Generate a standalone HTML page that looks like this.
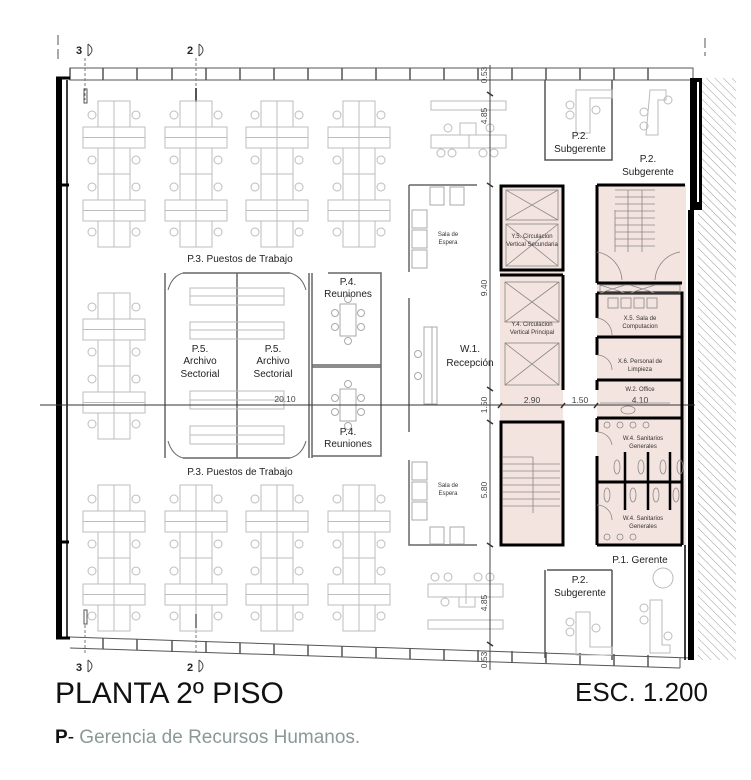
<!DOCTYPE html>
<html><head><meta charset="utf-8"><style>
html,body{margin:0;padding:0;background:#fff}
svg{display:block}
text{font-family:"Liberation Sans",Arial,sans-serif}
</style></head><body>
<svg width="751" height="780" viewBox="0 0 751 780" xmlns="http://www.w3.org/2000/svg">
<defs>
<pattern id="hatch" width="6" height="6" patternUnits="userSpaceOnUse" patternTransform="rotate(-45)">
<line x1="0" y1="0" x2="0" y2="6" stroke="#999" stroke-width="1"/>
</pattern>
<g id="cl" fill="none" stroke="#bdbdbd" stroke-width="1">
<rect x="-16" y="0" width="16" height="146"/><rect x="0" y="0" width="16" height="146"/>
<rect x="-31" y="26" width="62" height="21" fill="#fff"/><line x1="-31" y1="36.5" x2="31" y2="36.5"/><line x1="0" y1="26" x2="0" y2="47"/>
<rect x="-31" y="99" width="62" height="21" fill="#fff"/><line x1="-31" y1="109.5" x2="31" y2="109.5"/><line x1="0" y1="99" x2="0" y2="120"/>
<line x1="-16" y1="73" x2="16" y2="73"/>
<circle cx="-22" cy="14" r="4"/><circle cx="22" cy="14" r="4"/>
<circle cx="-22" cy="59" r="4"/><circle cx="22" cy="59" r="4"/>
<circle cx="-22" cy="86" r="4"/><circle cx="22" cy="86" r="4"/>
<circle cx="-22" cy="131" r="4"/><circle cx="22" cy="131" r="4"/>
</g>
<g id="mt" fill="none" stroke="#aaa" stroke-width="1">
<rect x="-8" y="-16" width="16" height="32"/>
<circle cx="0" cy="-21" r="3.5"/><circle cx="0" cy="21" r="3.5"/>
<circle cx="-13" cy="-7" r="3.5"/><circle cx="-13" cy="7" r="3.5"/>
<circle cx="13" cy="-7" r="3.5"/><circle cx="13" cy="7" r="3.5"/>
</g>
</defs>

<rect x="698" y="78" width="38" height="582" fill="url(#hatch)"/>

<g fill="#f4e4e0">
<rect x="500" y="185" width="63" height="205"/>
<rect x="500" y="390" width="63" height="32"/>
<rect x="500" y="422" width="63" height="123"/>
<rect x="597" y="185" width="89" height="360"/>
</g>

<g stroke="#555" fill="none" stroke-width="1">
<rect x="70" y="68" width="623" height="12"/>
<path d="M70 80 V68 M103 68v12 M137 68v12 M172 68v12 M206 68v12 M240 68v12 M274 68v12 M308 68v12 M342 68v12 M376 68v12 M410 68v12 M444 68v12 M478 68v12 M512 68v12 M546 68v12 M580 68v12 M614 68v12 M648 68v12" stroke-width="1.5"/>
<path d="M70 637 L690 658 M70 648 L680 668 M680 668 V658"/>
<path d="M103 638v11 M137 639v11 M172 640v12 M206 641v12 M240 643v11 M274 644v11 M308 645v11 M342 646v11 M376 647v11 M410 648v11 M444 649v11 M478 650v11 M512 651v11 M546 652v11 M580 653v12 M614 654v12 M648 655v12" stroke-width="1.5"/>
</g>

<rect x="56" y="78" width="6" height="560" fill="#000"/>
<path d="M56 78 H70 M62 185 H69 M62 542 H69 M56 638 H70" stroke="#000" stroke-width="3"/>
<line x1="67" y1="80" x2="67" y2="637" stroke="#000" stroke-width="1.5"/>
<path d="M694 78 H702 V210 H694 Z" fill="#000"/>
<rect x="697" y="82" width="2" height="120" fill="#fff"/>
<rect x="688" y="210" width="6" height="450" fill="#000"/>
<rect x="690" y="78" width="4" height="135" fill="#000"/>
<line x1="685" y1="545" x2="685" y2="660" stroke="#000" stroke-width="1.5"/>

<path d="M58 35 V62 M705 38 V56" stroke="#555" stroke-dasharray="10 4"/>
<path d="M85 58 V100 M196 58 V100 M85 625 V655 M196 625 V655" stroke="#777" stroke-dasharray="3 2"/>
<rect x="84" y="89" width="3" height="14" fill="none" stroke="#555"/>
<rect x="195" y="88" width="2" height="14" fill="#555"/>
<rect x="84" y="610" width="3" height="14" fill="none" stroke="#555"/>
<rect x="195" y="614" width="2" height="14" fill="#555"/>
<g font-size="11" font-weight="bold" fill="#222">
<text x="76" y="54">3</text><text x="187" y="54">2</text>
<text x="76" y="671">3</text><text x="187" y="671">2</text>
</g>
<g fill="none" stroke="#444">
<path d="M88 44 V56 M88 44 Q96 50 88 56 M199 44 V56 M199 44 Q207 50 199 56"/>
<path d="M88 660 V672 M88 660 Q96 666 88 672 M199 660 V672 M199 660 Q207 666 199 672"/>
</g>

<use href="#cl" x="114" y="101"/><use href="#cl" x="196" y="101"/><use href="#cl" x="277" y="101"/><use href="#cl" x="359" y="101"/>
<use href="#cl" x="114" y="293"/>
<use href="#cl" x="114" y="485"/><use href="#cl" x="196" y="485"/><use href="#cl" x="277" y="485"/><use href="#cl" x="359" y="485"/>

<g fill="none" stroke="#bbb">
<rect x="431" y="101" width="75" height="9"/>
<rect x="431" y="135" width="75" height="13"/><line x1="469" y1="135" x2="469" y2="148"/>
<rect x="460" y="123" width="16" height="12"/>
<circle cx="448" cy="128" r="4"/><circle cx="490" cy="128" r="4"/>
<circle cx="441" cy="153" r="4"/><circle cx="452" cy="153" r="4"/><circle cx="483" cy="153" r="4"/><circle cx="494" cy="153" r="4"/>
<rect x="428" y="620" width="75" height="9"/>
<rect x="428" y="584" width="75" height="13"/><line x1="466" y1="584" x2="466" y2="604"/>
<rect x="459" y="597" width="16" height="10"/>
<circle cx="445" cy="602" r="4"/><circle cx="435" cy="577" r="4"/><circle cx="448" cy="577" r="4"/><circle cx="478" cy="577" r="4"/><circle cx="490" cy="577" r="4"/>
</g>

<g fill="none" stroke="#666" stroke-width="1.5">
<path d="M165 273 V458 M309 273 V458 M237 273 V458"/>
<path d="M183 273 H290 M183 458 H290"/>
<path d="M168 290 Q172 276 183 273 M306 290 Q302 276 290 273 M168 441 Q172 455 183 458 M306 441 Q302 455 290 458" stroke-width="1"/>
</g>
<g fill="none" stroke="#bbb">
<rect x="190" y="288" width="94" height="17"/><line x1="190" y1="296" x2="284" y2="296"/>
<rect x="190" y="322" width="94" height="17"/><line x1="190" y1="330" x2="284" y2="330"/>
<rect x="190" y="391" width="94" height="18"/><line x1="190" y1="400" x2="284" y2="400"/>
<rect x="190" y="426" width="94" height="18"/><line x1="190" y1="435" x2="284" y2="435"/>
</g>
<g fill="none" stroke="#666" stroke-width="1.5">
<path d="M312 273 V458 M328 273 H381 V456 H312 M312 365 H381 M312 367 H381"/>
</g>
<use href="#mt" x="348" y="320"/><use href="#mt" x="348" y="405"/>

<g fill="none" stroke="#666" stroke-width="1.5">
<path d="M409 298 V432"/>
<path d="M409 185 H477 M409 185 V272 M409 460 V545 H477"/>
</g>
<g fill="none" stroke="#aaa">
<rect x="424" y="327" width="13" height="77"/><line x1="432" y1="327" x2="432" y2="404"/>
<circle cx="418" cy="354" r="3.5"/><circle cx="418" cy="376" r="3.5"/>
<rect x="430" y="187" width="14" height="18"/><rect x="450" y="187" width="14" height="18"/>
<rect x="412" y="210" width="15" height="18"/><rect x="412" y="230" width="15" height="18"/><rect x="412" y="250" width="15" height="18"/>
<rect x="412" y="462" width="15" height="18"/><rect x="412" y="482" width="15" height="18"/><rect x="412" y="502" width="15" height="18"/>
<rect x="430" y="527" width="14" height="17"/><rect x="450" y="527" width="14" height="17"/>
</g>

<line x1="40" y1="405" x2="695" y2="405" stroke="#333" stroke-width="1"/>
<line x1="490" y1="65" x2="490" y2="670" stroke="#444" stroke-width="1"/>
<g stroke="#333" stroke-width="1.5">
<path d="M487 183 l6 4 M487 387 l6 4 M487 420 l6 4 M487 543 l6 4 M487 92 l6 4 M487 642 l6 4 M498 408 l4 -5 M561 408 l4 -5 M594 408 l4 -5"/>
</g>
<g font-size="8.5" fill="#444">
<text transform="translate(487 116) rotate(-90)" text-anchor="middle">4.85</text>
<text transform="translate(487 75) rotate(-90)" text-anchor="middle">0.53</text>
<text transform="translate(487 288) rotate(-90)" text-anchor="middle">9.40</text>
<text transform="translate(487 405) rotate(-90)" text-anchor="middle">1.50</text>
<text transform="translate(487 490) rotate(-90)" text-anchor="middle">5.80</text>
<text transform="translate(487 603) rotate(-90)" text-anchor="middle">4.85</text>
<text transform="translate(487 660) rotate(-90)" text-anchor="middle">0.53</text>
<text x="532" y="403" text-anchor="middle">2.90</text>
<text x="580" y="403" text-anchor="middle">1.50</text>
<text x="640" y="403" text-anchor="middle">4.10</text>
<text x="285" y="402" text-anchor="middle">20.10</text>
</g>

<g fill="none" stroke="#000" stroke-width="3">
<rect x="501" y="186" width="62" height="84"/>
<path d="M563 275 V390 M500 275 H563"/>
<rect x="501" y="422" width="62" height="123"/>
<path d="M597 185 H685 M597 185 V283 M597 283 H682 M597 293 H682 V545 M597 337 H682 M597 380 H682 M597 418 H682 M597 482 H682 M597 545 H682 M597 293 V318 M597 337 V355 M597 380 V390 M597 418 V432 M597 456 V545"/>
</g>
<g fill="none" stroke="#888" stroke-width="0.8">
<rect x="506" y="190" width="52" height="30"/><path d="M506 190 L558 220 M558 190 L506 220"/>
<rect x="506" y="224" width="52" height="42"/><path d="M506 224 L558 266 M558 224 L506 266"/>
<rect x="505" y="282" width="54" height="40"/><path d="M505 282 L559 322 M559 282 L505 322"/>
<rect x="505" y="343" width="54" height="42"/><path d="M505 343 L559 385 M559 343 L505 385"/>
<path d="M503 457 H533 M503 464 H533 M503 471 H533 M503 478 H533 M503 485 H533 M503 492 H533 M503 499 H533 M503 506 H533 M533 457 V513 M533 464 H560 M533 471 H560 M533 478 H560 M533 485 H560 M533 492 H560 M533 499 H560 M533 506 H560"/>
<path d="M615 190 H655 M615 197 H655 M615 204 H655 M615 211 H655 M615 218 H655 M615 225 H655 M615 232 H655 M615 239 H655 M615 246 H655 M628 190 V252 M642 190 V252 M615 210 V252"/>
<path d="M600 285 h80 v8 h-80 z M600 285 l25 8 M625 285 l-25 8 M630 285 l25 8 M655 285 l-25 8"/>
<rect x="608" y="298" width="10" height="10"/><rect x="621" y="298" width="10" height="10"/><rect x="634" y="298" width="10" height="10"/><rect x="647" y="298" width="10" height="10"/>
<path d="M597 252 A30 30 0 0 1 622 280 M680 252 A30 30 0 0 0 655 280 M597 318 A17 17 0 0 1 612 335 M597 355 A15 15 0 0 1 612 370 M597 432 A15 15 0 0 1 612 445 M597 505 A15 15 0 0 1 612 520"/>
<ellipse cx="628" cy="410" rx="7" ry="4"/><line x1="600" y1="403" x2="670" y2="403"/>
<circle cx="607" cy="425" r="3"/><circle cx="620" cy="425" r="3"/><circle cx="633" cy="425" r="3"/><circle cx="646" cy="425" r="3"/>
<circle cx="607" cy="537" r="3"/><circle cx="620" cy="537" r="3"/><circle cx="633" cy="537" r="3"/>
<ellipse cx="617" cy="467" rx="3" ry="7"/><ellipse cx="641" cy="467" rx="3" ry="7"/><ellipse cx="663" cy="467" rx="3" ry="7"/><ellipse cx="680" cy="467" rx="3" ry="7"/>
<ellipse cx="607" cy="495" rx="3" ry="7"/><ellipse cx="633" cy="495" rx="3" ry="7"/><ellipse cx="656" cy="495" rx="3" ry="7"/><ellipse cx="676" cy="495" rx="3" ry="7"/>
</g>
<g stroke="#000" stroke-width="2.5"><path d="M625 452 V510 M648 452 V510 M670 452 V510"/></g>

<g fill="none" stroke="#555" stroke-width="1.5">
<path d="M545 80 V160 H612 V80 M612 160 V150 M545 570 V658 M612 570 V660 M547 570 H612"/>
</g>
<g fill="none" stroke="#bbb">
<path d="M576 90 h36 v8 h-22 v35 h-14 z"/><circle cx="570" cy="105" r="4"/><circle cx="570" cy="115" r="4"/><circle cx="596" cy="110" r="4"/>
<path d="M650 90 h16 v10 h-8 v35 h-12 z"/><circle cx="644" cy="112" r="4"/><circle cx="644" cy="126" r="4"/><circle cx="668" cy="100" r="4"/>
<path d="M576 612 h14 v35 h22 v8 h-36 z"/><circle cx="570" cy="622" r="4"/><circle cx="570" cy="632" r="4"/><circle cx="596" cy="628" r="4"/>
<path d="M650 600 h12 v45 h8 v8 h-20 z"/><circle cx="644" cy="608" r="4"/><circle cx="644" cy="620" r="4"/><circle cx="668" cy="636" r="4"/>
<circle cx="663" cy="578" r="10"/>
</g>

<g font-size="10" fill="#222" text-anchor="middle">
<text x="240" y="262">P.3. Puestos de Trabajo</text>
<text x="240" y="475">P.3. Puestos de Trabajo</text>
<text x="200" y="352">P.5.</text><text x="200" y="364">Archivo</text><text x="200" y="377">Sectorial</text>
<text x="273" y="352">P.5.</text><text x="273" y="364">Archivo</text><text x="273" y="377">Sectorial</text>
<text x="348" y="285">P.4.</text><text x="348" y="297">Reuniones</text>
<text x="348" y="435">P.4.</text><text x="348" y="447">Reuniones</text>
<text x="470" y="352">W.1.</text><text x="470" y="366">Recepción</text>
<text x="580" y="139">P.2.</text><text x="580" y="152">Subgerente</text>
<text x="648" y="162">P.2.</text><text x="648" y="175">Subgerente</text>
<text x="580" y="583">P.2.</text><text x="580" y="596">Subgerente</text>
<text x="640" y="563">P.1. Gerente</text>
</g>
<g font-size="6" fill="#333" text-anchor="middle">
<text x="448" y="236">Sala de</text><text x="448" y="244">Espera</text>
<text x="448" y="487">Sala de</text><text x="448" y="495">Espera</text>
<text x="532" y="238">Y.5. Circulacion</text><text x="532" y="246">Vertical Secundaria</text>
<text x="532" y="326">Y.4. Circulacion</text><text x="532" y="334">Vertical Principal</text>
<text x="640" y="320">X.5.  Sala de</text><text x="640" y="328">Computacion</text>
<text x="640" y="363">X.6. Personal de</text><text x="640" y="371">Limpieza</text>
<text x="640" y="391">W.2. Office</text>
<text x="643" y="440">W.4. Sanitarios</text><text x="643" y="448">Generales</text>
<text x="643" y="520">W.4. Sanitarios</text><text x="643" y="528">Generales</text>
</g>

<text x="55" y="703" font-size="30" fill="#111">PLANTA 2º PISO</text>
<text x="575" y="701" font-size="26" fill="#111">ESC. 1.200</text>
<text x="55" y="743" font-size="19" fill="#8a9998"><tspan fill="#111" font-weight="bold">P</tspan><tspan fill="#111">-</tspan> Gerencia de Recursos Humanos.</text>
</svg>
</body></html>
